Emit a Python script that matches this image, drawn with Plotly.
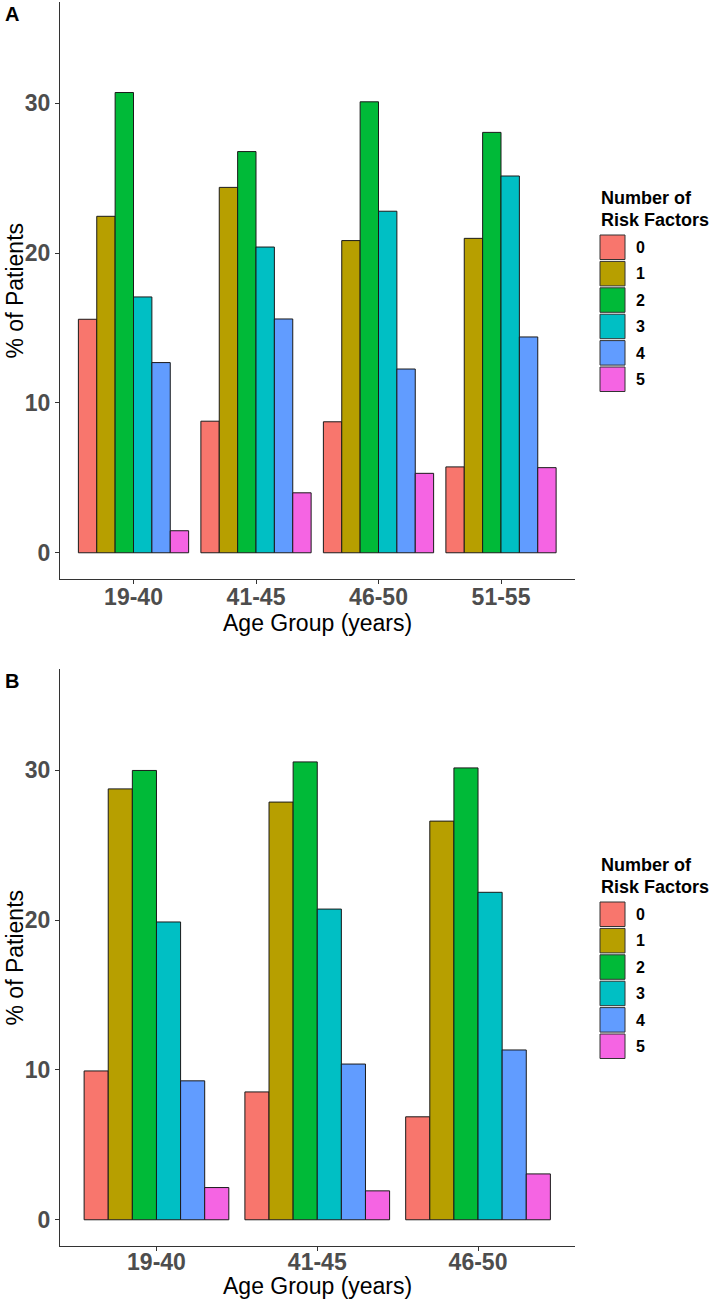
import plotly.graph_objects as go

# ---------------- data ----------------
AGE_A = ["19-40", "41-45", "46-50", "51-55"]
AGE_B = ["19-40", "41-45", "46-50"]
RISK_FACTORS = ["0", "1", "2", "3", "4", "5"]
COLORS = ["#F8766D", "#B79F00", "#00BA38", "#00BFC4", "#619CFF", "#F564E3"]

# Panel A: % of patients per number of risk factors (per age group)
A_RF0 = [15.58, 8.78, 8.74, 5.73]
A_RF1 = [22.45, 24.38, 20.83, 20.98]
A_RF2 = [30.71, 26.77, 30.09, 28.05]
A_RF3 = [17.07, 20.40, 22.79, 25.14]
A_RF4 = [12.69, 15.60, 12.26, 14.40]
A_RF5 = [1.47, 4.00, 5.30, 5.68]

# Panel B
B_RF0 = [9.93, 8.53, 6.87]
B_RF1 = [28.75, 27.87, 26.60]
B_RF2 = [29.98, 30.55, 30.15]
B_RF3 = [19.87, 20.73, 21.85]
B_RF4 = [9.27, 10.39, 11.33]
B_RF5 = [2.15, 1.93, 3.06]

Y_TICKS = [0, 10, 20, 30]
Y_LIMITS = [0, 35]
PANEL_LABELS = ["A", "B"]
X_TITLE = "Age Group (years)"
Y_TITLE = "% of Patients"
LEGEND_TITLE = ["Number of", "Risk Factors"]

A_SERIES = [A_RF0, A_RF1, A_RF2, A_RF3, A_RF4, A_RF5]
B_SERIES = [B_RF0, B_RF1, B_RF2, B_RF3, B_RF4, B_RF5]

# ---------------- layout helpers ----------------
W, H = 709, 1301
FONT = "Arial, Liberation Sans, sans-serif"


def px_x(p):
    return p / W


def px_y(p):
    return 1 - p / H


fig = go.Figure()

for series, cats, xa, ya in [(A_SERIES, AGE_A, "x", "y"), (B_SERIES, AGE_B, "x2", "y2")]:
    for name, vals, col in zip(RISK_FACTORS, series, COLORS):
        fig.add_trace(go.Bar(
            x=cats, y=vals, name=name, xaxis=xa, yaxis=ya,
            marker=dict(color=col, line=dict(color="#1a1a1a", width=1)),
            showlegend=False,
        ))

exp = 0.05 * (Y_LIMITS[1] - Y_LIMITS[0])
yrange = [Y_LIMITS[0] - exp, Y_LIMITS[1] + exp]

axis_common = dict(
    showline=True, linecolor="#333333", linewidth=1.1,
    ticks="outside", ticklen=4, tickcolor="#333333", tickwidth=1.1,
    showgrid=False, zeroline=False, automargin=False,
    tickfont=dict(family=FONT, size=23, color="#4D4D4D", weight="bold"),
)

xdom = [px_x(60), px_x(574.5)]
panels = [
    dict(top=2, bottom=579, n=len(AGE_A), xtitle_y=623),
    dict(top=669, bottom=1246, n=len(AGE_B), xtitle_y=1286),
]

fig.update_layout(
    width=W, height=H,
    margin=dict(l=0, r=0, t=0, b=0),
    paper_bgcolor="white", plot_bgcolor="white",
    barmode="group", bargap=0.1, bargroupgap=0,
    xaxis=dict(domain=xdom, anchor="y", type="category", ticklabelstandoff=-7,
               range=[-0.6, panels[0]["n"] - 0.4], **axis_common),
    yaxis=dict(domain=[1 - panels[0]["bottom"] / H, 1 - panels[0]["top"] / H],
               anchor="x", range=yrange, tickvals=Y_TICKS, **axis_common),
    xaxis2=dict(domain=xdom, anchor="y2", type="category", ticklabelstandoff=-9,
                range=[-0.6, panels[1]["n"] - 0.4], **axis_common),
    yaxis2=dict(domain=[1 - panels[1]["bottom"] / H, 1 - panels[1]["top"] / H],
                anchor="x2", range=yrange, tickvals=Y_TICKS, **axis_common),
    font=dict(family=FONT),
)

annotations = []
shapes = []
for k, p in enumerate(panels):
    off = p["top"] - 2
    # panel label
    annotations.append(dict(text=PANEL_LABELS[k], x=px_x(3), y=px_y(p["top"] - 1),
                            xref="paper", yref="paper", xanchor="left", yanchor="top",
                            showarrow=False, font=dict(family=FONT, size=20, color="black", weight="bold")))
    # y title
    mid = (p["top"] + p["bottom"]) / 2
    annotations.append(dict(text=Y_TITLE, x=0, y=px_y(mid), textangle=-90,
                            xref="paper", yref="paper", xanchor="left", yanchor="middle",
                            borderpad=0,
                            showarrow=False, font=dict(family=FONT, size=23, color="black")))
    # x title
    annotations.append(dict(text=X_TITLE, x=(xdom[0] + xdom[1]) / 2, y=px_y(p["xtitle_y"]),
                            xref="paper", yref="paper", xanchor="center", yanchor="middle",
                            borderpad=0,
                            showarrow=False, font=dict(family=FONT, size=23, color="black")))
    # legend title
    for j, line in enumerate(LEGEND_TITLE):
        annotations.append(dict(text=line, x=px_x(599), y=px_y(198.5 + 21.7 * j + off),
                                xref="paper", yref="paper", xanchor="left", yanchor="middle",
                                showarrow=False, font=dict(family=FONT, size=18, color="black", weight="bold")))
    # legend keys
    for i, (name, col) in enumerate(zip(RISK_FACTORS, COLORS)):
        y0 = 235 + 26.4 * i + off
        shapes.append(dict(type="rect", xref="paper", yref="paper",
                           x0=px_x(600), x1=px_x(625), y0=px_y(y0), y1=px_y(y0 + 24.5),
                           fillcolor=col, line=dict(color="#333333", width=1)))
        annotations.append(dict(text=name, x=px_x(634), y=px_y(y0 + 12.5),
                                xref="paper", yref="paper", xanchor="left", yanchor="middle",
                                showarrow=False, font=dict(family=FONT, size=16, color="black", weight="bold")))

fig.update_layout(annotations=annotations, shapes=shapes)

fig.write_html("out.html", config={"displayModeBar": False},
               post_script="document.body.style.margin='0';document.body.style.padding='0';")
